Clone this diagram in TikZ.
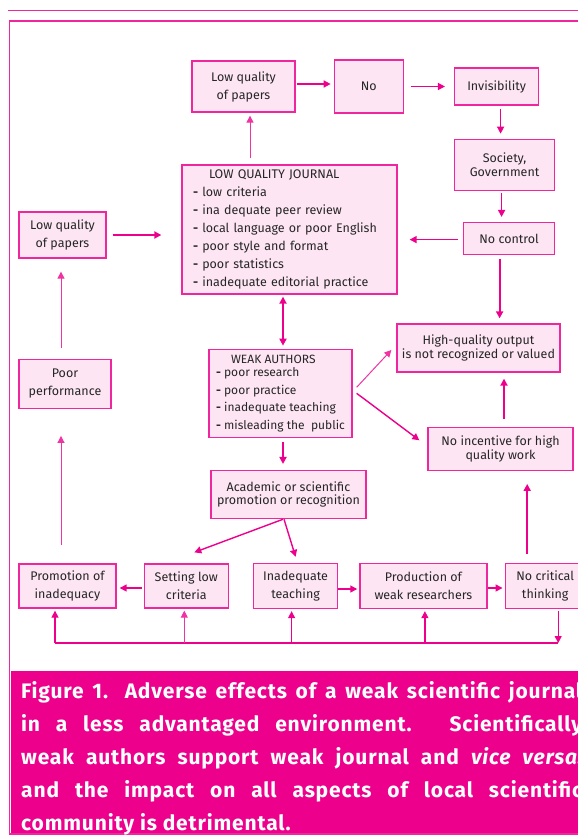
\documentclass[tikz,border=0pt]{standalone}
\usepackage{fontspec}
\setmainfont{Fira Sans}
\usetikzlibrary{arrows.meta}
\usetikzlibrary{positioning}
\definecolor{figpink}{RGB}{236,0,140}
\newcommand{\boxdrawcolor}[0]{figpink!85}
\newcommand{\boxfillcolor}[0]{figpink!10}
\newcommand{\boxtextcolor}[0]{black!85}
\tikzset{
    flowbox/.style={rectangle, draw=\boxdrawcolor, fill=\boxfillcolor, line width=1.3pt,
        align=center, text=\boxtextcolor, font=\fontsize{12.5}{18}\selectfont},
    tightbox/.style={flowbox, font=\fontsize{12.5}{13.5}\selectfont},
    flowarrow/.style={draw=figpink, line width=1.4pt, -{Triangle[length=7pt,width=7pt]}},
    thickarrow/.style={flowarrow, line width=1.9pt},
    thinarrow/.style={flowarrow, draw=figpink!80, line width=1pt},
    twoway/.style={thickarrow, {Triangle[length=7pt,width=7pt]}-{Triangle[length=7pt,width=7pt]}},
}

\begin{document}
\begin{tikzpicture}[x=1pt, y=1pt]
    \useasboundingbox (0,0) rectangle (578,-835);
    \clip (0,0) rectangle (578,-835);
    % page rule, frame and caption band
    \draw[draw=\boxdrawcolor, line width=1.3pt] (8,-10.5) -- (600,-10.5);
    \draw[draw=\boxdrawcolor, line width=1.5pt] (9.5,-21) rectangle (600,-834);
    \fill[figpink] (10.5,-671) rectangle (600,-833);

    % top row
    \node[flowbox, minimum width=103pt, minimum height=51pt]
        (lowq_top) at (243.5,-86.5) {Low quality\\of papers};
    \node[flowbox, minimum width=69pt, minimum height=53pt,
        right=38pt of lowq_top]
        (no) {No};
    \node[flowbox, minimum width=84pt, minimum height=37pt,
        right=50pt of no]
        (invis) {Invisibility};
    \node[tightbox, minimum width=100pt, minimum height=51pt,
        below=33pt of invis.south west, anchor=north west]
        (society) {Society,\\Government};
    \node[flowbox, minimum width=91pt, minimum height=32pt,
        below=31pt of society.south east, anchor=north east]
        (nocontrol) {No control};

    % journal and authors
    \node[flowbox, align=left, text width=193pt, inner xsep=11pt, minimum height=129pt]
        (lqj) at (289.5,-229.5)
        {\hspace*{16pt}LOW QUALITY JOURNAL\\
         \textbf{-} low criteria\\
         \textbf{-} ina dequate peer review\\
         \textbf{-} local language or poor English\\
         \textbf{-} poor style and format\\
         \textbf{-} poor statistics\\
         \textbf{-} inadequate editorial practice};
    \node[flowbox, minimum width=87pt, minimum height=46pt]
        (lowq_left) at (62.5,-235) {Low quality\\of papers};
    \node[flowbox, minimum width=92pt, minimum height=49pt,
        below=100pt of lowq_left.south west, anchor=north west]
        (poor) {Poor\\performance};
    \node[flowbox, align=left, inner xsep=3pt, minimum width=143pt, minimum height=88pt,
        font=\fontsize{12}{17.5}\selectfont,
        below=54pt of lqj, xshift=-9pt]
        (wa)
        {\hspace*{15pt}WEAK AUTHORS\\[-4pt]
         \textbf{-} poor research\\
         \textbf{-} poor practice\\
         \textbf{-} inadequate teaching\\
         \textbf{-} misleading the\ \ public};
    \node[tightbox, minimum width=155pt, minimum height=48pt,
        below=32pt of wa, xshift=8pt]
        (academic) {Academic or scientific\\promotion or recognition};
    \node[tightbox, minimum width=163pt, minimum height=48pt]
        (hq) at (478.5,-348) {High-quality output\\is not recognized or valued};
    \node[tightbox, minimum width=145pt, minimum height=43pt,
        below=54pt of hq, xshift=22pt]
        (noinc) {No incentive for high\\quality work};

    % bottom row
    \node[flowbox, minimum width=97pt, minimum height=44pt]
        (promo) at (67.5,-586) {Promotion of\\inadequacy};
    \node[flowbox, minimum width=84pt, minimum height=44pt,
        right=27pt of promo]
        (setting) {Setting low\\criteria};
    \node[flowbox, minimum width=84pt, minimum height=45pt,
        right=24pt of setting]
        (inad) {Inadequate\\teaching};
    \node[flowbox, minimum width=127pt, minimum height=45pt,
        right=21pt of inad]
        (prod) {Production of\\weak researchers};
    \node[flowbox, minimum width=80pt, minimum height=45pt,
        right=17pt of prod]
        (nocrit) {No critical\\thinking};

    % connectors
    \draw[thinarrow, shorten <=6pt, shorten >=3pt] ([xshift=6.5pt]lowq_top.south |- lqj.north) -- ([xshift=6.5pt]lowq_top.south);
    \draw[flowarrow, shorten <=1pt, shorten >=3pt] ([yshift=2.5pt]lowq_top.east) -- ([yshift=2.5pt]lowq_top.east -| no.west);
    \draw[flowarrow, shorten <=7pt, shorten >=9pt] (no.east) -- (no.east -| invis.west);
    \draw[flowarrow, shorten <=3pt, shorten >=5pt] ([xshift=4pt]invis.south) -- ([xshift=4pt]invis.south |- society.north);
    \draw[flowarrow, shorten <=2pt, shorten >=5pt] ([xshift=-3pt]society.south) -- ([xshift=-3pt]society.south |- nocontrol.north);
    \draw[flowarrow, shorten <=5pt, shorten >=12pt] ([yshift=-1pt]nocontrol.west) -- ([yshift=-1pt]nocontrol.west -| lqj.east);
    \draw[thickarrow, shorten <=4pt, shorten >=5pt] ([xshift=-9.5pt]nocontrol.south) -- ([xshift=-9.5pt]nocontrol.south |- hq.north);
    \draw[thickarrow, shorten <=8pt, shorten >=6pt] ([xshift=3.5pt]noinc.north) -- ([xshift=3.5pt]noinc.north |- hq.south);
    \draw[thickarrow, shorten <=6pt, shorten >=20pt] (lowq_left.east) -- (lowq_left.east -| lqj.west);
    \draw[thinarrow, shorten <=11pt, shorten >=13pt] ([xshift=-4pt]poor.north) -- ([xshift=-4pt]poor.north |- lowq_left.south);
    \draw[thinarrow, shorten <=18pt, shorten >=27pt] ([xshift=-6.5pt]promo.north) -- ([xshift=-6.5pt]promo.north |- poor.south);
    \draw[twoway, shorten <=2pt, shorten >=3pt] ([xshift=-6.5pt]lqj.south) -- ([xshift=-6.5pt]lqj.south |- wa.north);
    \draw[thickarrow, shorten <=4pt, shorten >=6pt] ([xshift=2.5pt]wa.south) -- ([xshift=2.5pt]wa.south |- academic.north);
    \draw[thinarrow] ([shift={(4pt,6pt)}]wa.east) -- ([shift={(-5pt,-2pt)}]hq.west);
    \draw[flowarrow] ([xshift=4pt]wa.east) -- ([shift={(-8pt,8.5pt)}]noinc.west);
    \draw[flowarrow] ([xshift=-5.5pt]academic.south) -- ([shift={(8pt,11pt)}]setting.north);
    \draw[flowarrow] ([xshift=-4.5pt]academic.south) -- ([yshift=6pt]inad.north);
    \draw[flowarrow, shorten <=2pt, shorten >=3pt] ([yshift=-2pt]setting.west) -- ([yshift=-2pt]setting.west -| promo.east);
    \draw[flowarrow, shorten >=2pt] ([yshift=-3pt]inad.east) -- ([yshift=-3pt]inad.east -| prod.west);
    \draw[flowarrow, shorten >=2pt] ([yshift=-2pt]prod.east) -- ([yshift=-2pt]prod.east -| nocrit.west);
    \draw[thickarrow, shorten <=9pt, shorten >=13pt] ([xshift=-18pt]nocrit.north) -- ([xshift=-18pt]nocrit.north |- noinc.south);

    % feedback bus under the bottom row
    \coordinate (bus) at (0,-643);
    \coordinate (bus_promo) at ([xshift=-12.5pt]promo.south |- bus);
    \coordinate (bus_setting) at ([xshift=-2pt]setting.south |- bus);
    \coordinate (bus_inad) at ([xshift=-4pt]inad.south |- bus);
    \coordinate (bus_prod) at ([xshift=1.5pt]prod.south |- bus);
    \coordinate (bus_nocrit) at ([xshift=13pt]nocrit.south |- bus);
    \draw[draw=figpink, line width=1.2pt] (bus_promo) -- (bus_nocrit);
    \draw[flowarrow, line width=1.2pt, shorten <=2pt] ([xshift=13pt]nocrit.south) -- (bus_nocrit);
    \draw[flowarrow, line width=1.2pt, shorten >=2pt] (bus_promo) -- ([xshift=-12.5pt]promo.south);
    \draw[thinarrow, shorten >=2pt] (bus_setting) -- ([xshift=-2pt]setting.south);
    \draw[flowarrow, line width=1.2pt, shorten >=2pt] (bus_inad) -- ([xshift=-4pt]inad.south);
    \draw[flowarrow, line width=1.2pt, shorten >=2pt] (bus_prod) -- ([xshift=1.5pt]prod.south);

    % caption
    \node[anchor=north west, inner sep=0pt, text width=561pt, align=justify, text=white,
        font=\bfseries\fontsize{21}{33}\selectfont\addfontfeatures{LetterSpace=4}]
        (caption) at (21,-681)
        {Figure 1. Adverse effects of a weak scientific journal\linebreak
         in a less advantaged environment. Scientifically\linebreak
         weak authors support weak journal and \textit{vice versa}.\linebreak
         and the impact on all aspects of local scientific\linebreak
         community is detrimental.};
\end{tikzpicture}
\end{document}
